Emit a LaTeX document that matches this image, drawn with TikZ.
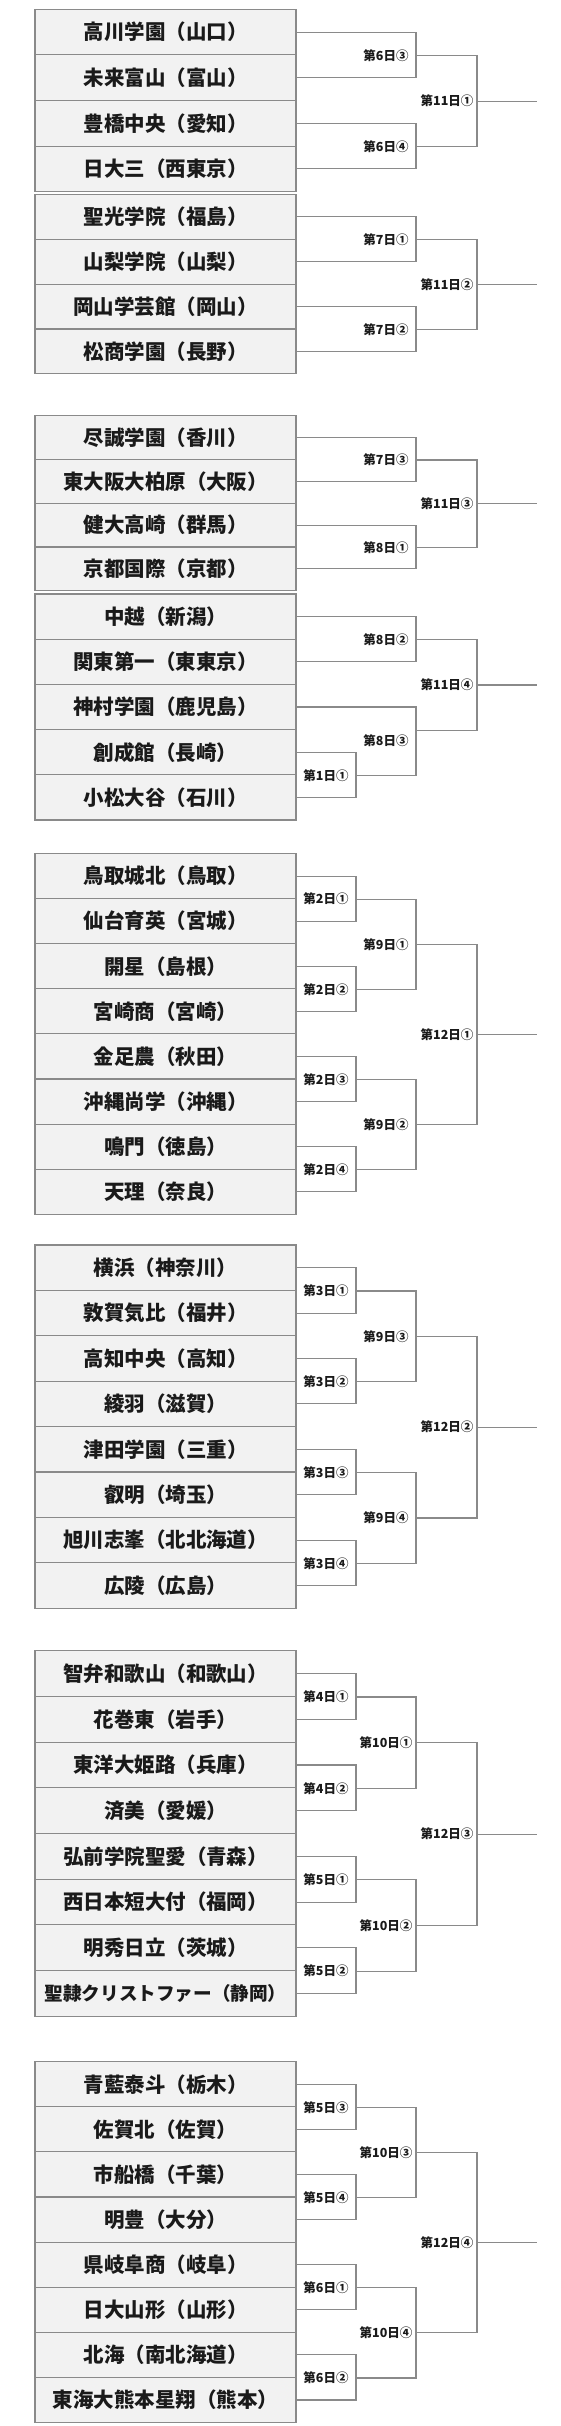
\documentclass[tikz,border=0pt]{standalone}
\usepackage{fontspec}
\setmainfont{Noto Sans CJK JP}
\usetikzlibrary{positioning,calc}
\definecolor{cBox}{HTML}{F2F2F2}
\definecolor{cLine}{HTML}{8A8A8A}
\definecolor{cTxt}{HTML}{1A1A1A}
\tikzset{
  team/.style={draw=cLine,line width=1.1pt,fill=cBox,minimum width=261pt,
               minimum height=#1,inner sep=0pt,text=cTxt,
               font=\fontsize{20.5}{22}\selectfont\bfseries},
  wire/.style={draw=cLine,line width=1.1pt},
  day/.style={inner sep=0pt,text=cTxt,font=\fontsize{12.5}{14}\selectfont\bfseries},
}

\begin{document}
\begin{tikzpicture}[x=1pt,y=-1pt]
  \useasboundingbox (0,0) rectangle (561,2426);
  % columns of the bracket
  \coordinate (colA) at (356,0);
  \coordinate (colB) at (416,0);
  \coordinate (colC) at (477,0);
  \coordinate (colE) at (537,0);

  % block a
  \foreach \t [count=\i] in {高川学園（山口）,未来富山（富山）,豊橋中央（愛知）,日大三（西東京）}
    \node[team=45.6pt] (a\i) at (165.5,{9.3+45.6*(\i-.5)}) {\t};
  \foreach \t [count=\i from 5] in {聖光学院（福島）,山梨学院（山梨）,岡山学芸館（岡山）,松商学園（長野）}
    \node[team=44.9pt] (a\i) at (165.5,{194.3+44.9*(\i-4.5)}) {\t};
  \foreach \k/\d in {1/第6日③,3/第6日④,5/第7日①,7/第7日②}{
    \pgfmathtruncatemacro\kk{\k+1}
    \coordinate (ma\k) at (colB |- a\k.south);
    \draw[wire] (a\k) -| (ma\k) (a\kk) -| (ma\k);
    \node[day] (da\k) at ($(ma\k)+(-30,0)$) {\d};
  }
  \coordinate (na2) at (colC |- a2.south);
  \coordinate (na6) at (colC |- a6.south);
  \coordinate (oa2) at (colE |- a2.south);
  \coordinate (oa6) at (colE |- a6.south);
  \draw[wire] (ma1) -| (na2) (ma3) -| (na2) (na2) -- (oa2);
  \draw[wire] (ma5) -| (na6) (ma7) -| (na6) (na6) -- (oa6);
  \node[day] (ea2) at ($(na2)+(-30,0)$) {第11日①};
  \node[day] (ea6) at ($(na6)+(-30,0)$) {第11日②};

  % block b
  \foreach \t [count=\i] in {尽誠学園（香川）,東大阪大柏原（大阪）,健大高崎（群馬）,京都国際（京都）}
    \node[team=43.75pt] (b\i) at (165.5,{415.7+43.75*(\i-.5)}) {\t};
  \foreach \t [count=\i from 5] in {中越（新潟）,関東第一（東東京）,神村学園（鹿児島）,創成館（長崎）,小松大谷（石川）}
    \node[team=45.2pt] (b\i) at (165.5,{594+45.2*(\i-4.5)}) {\t};
  \foreach \k/\d in {1/第7日③,3/第8日①,5/第8日②}{
    \pgfmathtruncatemacro\kk{\k+1}
    \coordinate (mb\k) at (colB |- b\k.south);
    \draw[wire] (b\k) -| (mb\k) (b\kk) -| (mb\k);
    \node[day] (db\k) at ($(mb\k)+(-30,0)$) {\d};
  }
  \coordinate (mb8) at (colA |- b8.south);
  \draw[wire] (b8) -| (mb8) (b9) -| (mb8);
  \node[day] (db8) at ($(mb8)+(-30,0)$) {第1日①};
  \coordinate (mb7) at (colB |- b7.south);
  \draw[wire] (b7) -| (mb7) (mb8) -| (mb7);
  \node[day] (db7) at ($(b7 -| colB)!.5!(mb8 -| colB)+(-30,0)$) {第8日③};
  \coordinate (nb2) at (colC |- b2.south);
  \coordinate (nb6) at (colC |- b6.south);
  \coordinate (ob2) at (colE |- b2.south);
  \coordinate (ob6) at (colE |- b6.south);
  \draw[wire] (mb1) -| (nb2) (mb3) -| (nb2) (nb2) -- (ob2);
  \draw[wire] (mb5) -| (nb6) (mb7) -| (nb6) (nb6) -- (ob6);
  \node[day] (eb2) at ($(nb2)+(-30,0)$) {第11日③};
  \node[day] (eb6) at ($(nb6)+(-30,0)$) {第11日④};

  % blocks c to f
  \foreach \t [count=\i] in {鳥取城北（鳥取）,仙台育英（宮城）,開星（島根）,宮崎商（宮崎）,金足農（秋田）,沖縄尚学（沖縄）,鳴門（徳島）,天理（奈良）}
    \node[team=45.1pt] (c\i) at (165.5,{853.5+45.1*(\i-.5)}) {\t};
  \foreach \t [count=\i] in {横浜（神奈川）,敦賀気比（福井）,高知中央（高知）,綾羽（滋賀）,津田学園（三重）,叡明（埼玉）,旭川志峯（北北海道）,広陵（広島）}
    \node[team=45.4pt] (d\i) at (165.5,{1245+45.4*(\i-.5)}) {\t};
  \foreach \t [count=\i] in {智弁和歌山（和歌山）,花巻東（岩手）,東洋大姫路（兵庫）,済美（愛媛）,弘前学院聖愛（青森）,西日本短大付（福岡）,明秀日立（茨城）,{\fontsize{18.6}{20}\selectfont 聖隷クリストファー（静岡）}}
    \node[team=45.7pt] (e\i) at (165.5,{1650.7+45.7*(\i-.5)}) {\t};
  \foreach \t [count=\i] in {青藍泰斗（栃木）,佐賀北（佐賀）,市船橋（千葉）,明豊（大分）,県岐阜商（岐阜）,日大山形（山形）,北海（南北海道）,東海大熊本星翔（熊本）}
    \node[team=45.1pt] (f\i) at (165.5,{2061.7+45.1*(\i-.5)}) {\t};

  \foreach \g/\da/\db/\dc/\dd/\de/\df/\dg in {
      c/第2日①/第2日②/第2日③/第2日④/第9日①/第9日②/第12日①,
      d/第3日①/第3日②/第3日③/第3日④/第9日③/第9日④/第12日②,
      e/第4日①/第4日②/第5日①/第5日②/第10日①/第10日②/第12日③,
      f/第5日③/第5日④/第6日①/第6日②/第10日③/第10日④/第12日④}{
    \foreach \k in {1,3,5,7}{
      \pgfmathtruncatemacro\kk{\k+1}
      \coordinate (m\g\k) at (colA |- \g\k.south);
      \draw[wire] (\g\k) -| (m\g\k) (\g\kk) -| (m\g\k);
    }
    \coordinate (n\g2) at (colB |- \g2.south);
    \coordinate (n\g6) at (colB |- \g6.south);
    \coordinate (p\g) at (colC |- \g4.south);
    \coordinate (o\g) at (colE |- \g4.south);
    \draw[wire] (m\g1) -| (n\g2) (m\g3) -| (n\g2) (m\g5) -| (n\g6) (m\g7) -| (n\g6);
    \draw[wire] (n\g2) -| (p\g) (n\g6) -| (p\g) (p\g) -- (o\g);
    \node[day] (d\g1) at ($(m\g1)+(-30,0)$) {\da};
    \node[day] (d\g3) at ($(m\g3)+(-30,0)$) {\db};
    \node[day] (d\g5) at ($(m\g5)+(-30,0)$) {\dc};
    \node[day] (d\g7) at ($(m\g7)+(-30,0)$) {\dd};
    \node[day] (e\g2) at ($(n\g2)+(-30,0)$) {\de};
    \node[day] (e\g6) at ($(n\g6)+(-30,0)$) {\df};
    \node[day] (e\g4) at ($(p\g)+(-30,0)$) {\dg};
  }
\end{tikzpicture}
\end{document}
